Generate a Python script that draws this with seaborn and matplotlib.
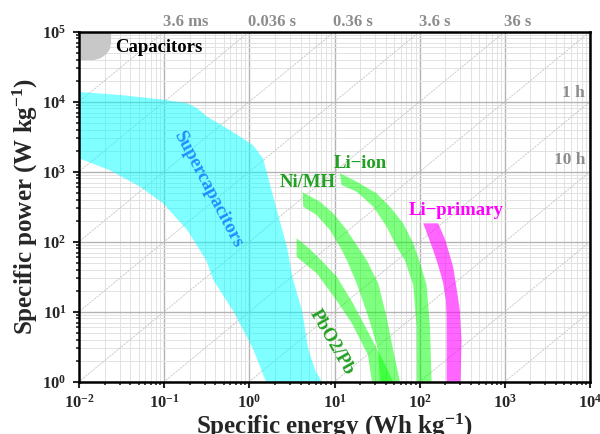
import matplotlib
matplotlib.use("Agg")
import matplotlib.pyplot as plt
import numpy as np
import pandas as pd
import seaborn as sns

# ---------------- data (Specific energy Wh/kg, Specific power W/kg) ----------------
cap_E = [0.01, 0.0238, 0.0238, 0.0230, 0.0210, 0.0181, 0.0150, 0.01]
cap_P = [1e5, 1e5, 6.9e4, 5.6e4, 4.8e4, 4.2e4, 3.94e4, 3.94e4]

sc_E = [0.01, 0.03, 0.097, 0.186, 0.243, 0.32, 0.64, 1.1, 1.45,
        2.1, 2.76, 3.2, 4.2, 4.9, 6.0, 7.1,
        1.57, 1.1, 0.66, 0.38, 0.31, 0.186, 0.097, 0.052, 0.023, 0.01]
sc_P = [1.38e4, 1.25e4, 1.07e4, 9.5e3, 8.1e3, 6.1e3, 3.7e3, 2.4e3, 1.55e3,
        285, 85, 31.6, 9.8, 3.0, 1.4, 1.0,
        1.0, 3.0, 9.8, 28, 55, 147, 355, 610, 1050, 1550]

pb_E = [3.59, 5.14, 7.11, 10.7, 16.4, 25.3, 38, 48.5,
        27.5, 24.7, 15.9, 10.1, 6.17, 3.59]
pb_P = [112, 78.7, 53, 31.3, 13.3, 4.91, 1.91, 1.0,
        1.0, 2.41, 6.9, 15.7, 35.4, 61]

nimh_E = [4.22, 6.74, 9.66, 13.9, 19.9, 23.8, 32.6, 40.8, 48.9, 58.6,
          34.1, 32.6, 24.9, 18.2, 13.9, 11.6, 8.83, 6.17, 4.29]
nimh_P = [508, 373, 255, 147, 76, 55, 25.5, 8.5, 2.84, 1.0,
          1.0, 2.84, 8.5, 25.5, 55, 84.8, 147, 240, 316]

liion_E = [11.6, 18.2, 31.2, 44.7, 64, 84, 100.5, 120.5, 132, 138,
           92.7, 92, 84, 67, 53.6, 40.9, 28.5, 18.2, 12.1]
liion_P = [948, 720, 491, 316, 183, 95, 51, 24, 6.1, 1.0,
           1.0, 6.1, 24, 54.8, 84.8, 164, 316, 518, 645]

lip_E = [110, 165, 200, 247, 273, 296, 310, 302,
         207, 207, 203, 189, 166, 144]
lip_P = [183, 183, 106, 44, 20.4, 10.6, 3.9, 1.0,
         1.0, 8.5, 14.7, 25.5, 45, 76]

# constant discharge-time lines (hours)
time_h = [1e-7, 1e-6, 1e-5, 1e-4, 1e-3, 1e-2, 1e-1, 1, 10, 100, 1e3, 1e4]
top_time_labels = ["3.6 ms", "0.036 s", "0.36 s", "3.6 s", "36 s"]
top_time_E = [0.1, 1, 10, 100, 1000]
right_time_labels = ["1 h", "10 h"]
right_time_P = [1.33e4, 1.47e3]

xticks = [1e-2, 1e-1, 1, 10, 100, 1e3, 1e4]
yticks = [1, 10, 100, 1e3, 1e4, 1e5]

# ---------------- style ----------------
sns.set_style("white")
plt.rcParams.update({
    "font.family": ["Liberation Serif", "DejaVu Serif"],
    "font.weight": "bold",
    "axes.labelweight": "bold",
    "mathtext.fontset": "custom",
    "mathtext.rm": "Liberation Serif:bold",
    "mathtext.it": "Liberation Serif:bold",
    "mathtext.bf": "Liberation Serif:bold",
    "mathtext.default": "regular",
})

fig = plt.figure(figsize=(6, 4.34), dpi=100)
ax = fig.add_axes([79 / 600, 1 - 381.7 / 434, 511 / 600, 350 / 434])
ax.set_xscale("log")
ax.set_yscale("log")

ax.grid(True, which="major", color="#b4b4b4", lw=1.0)
ax.grid(True, which="minor", color="#e2e2e2", lw=0.7)
ax.set_axisbelow(True)

# diagonal time lines through seaborn
rows = []
for t in time_h:
    for p in [1e-1, 1e6]:
        rows.append({"E": t * p, "P": p, "t": t})
df = pd.DataFrame(rows)
sns.lineplot(data=df, x="E", y="P", units="t", estimator=None, color="#c4c4c4",
             lw=0.6, ax=ax, legend=False, sort=False)
for ln in ax.lines:
    ln.set_dashes((2.5, 1.2))
    ln.set_zorder(1.5)

ax.fill(cap_E, cap_P, color="#c8c8c8", lw=0, zorder=2)
ax.fill(sc_E, sc_P, color="cyan", alpha=0.5, lw=0, zorder=2)
ax.fill(pb_E, pb_P, color="#00ff00", alpha=0.5, lw=0, zorder=2)
ax.fill(nimh_E, nimh_P, color="#00ff00", alpha=0.5, lw=0, zorder=2)
ax.fill(liion_E, liion_P, color="#00ff00", alpha=0.5, lw=0, zorder=2)
ax.fill(lip_E, lip_P, color="magenta", alpha=0.6, lw=0, zorder=2)

ax.set_xlim(1e-2, 1e4)
ax.set_ylim(1, 1e5)
ax.set_xticks(xticks)
ax.set_yticks(yticks)

green = "#22a022"
ax.text(0.0265, 6.0e4, "Capacitors", fontsize=13.5, color="black", ha="left", va="center")
ax.text(0.33, 560, "Supercapacitors", fontsize=13.5, color="#1e8fff", rotation=-62,
        ha="center", va="center", rotation_mode="anchor")
ax.text(9.33, 3.69, "PbO2/Pb", fontsize=13.5, color=green, rotation=-60,
        ha="center", va="center", rotation_mode="anchor")
ax.text(4.81, 690, "Ni/MH", fontsize=13.5, color=green, ha="center", va="center")
ax.text(19.9, 1331, "Li\u2212ion", fontsize=13.5, color=green, ha="center", va="center")
ax.text(265, 275, "Li\u2212primary", fontsize=13.5, color="magenta", ha="center", va="center")

trans_top = ax.get_xaxis_transform()
for lab, e in zip(top_time_labels, top_time_E):
    ax.text(e * 0.97, 1.004, lab, transform=trans_top, fontsize=12, color="#8c8c8c",
            ha="left", va="bottom")
trans_right = ax.get_yaxis_transform()
for lab, p in zip(right_time_labels, right_time_P):
    ax.text(0.99, p, lab, transform=trans_right, fontsize=12.5, color="#8c8c8c",
            ha="right", va="center")

for s in ax.spines.values():
    s.set_linewidth(1.8)
    s.set_color("black")
    s.set_visible(True)

ax.tick_params(which="major", direction="out", length=4, width=1.5, labelsize=12,
               pad=5, top=False, right=False, bottom=True, left=True)
ax.tick_params(which="minor", direction="out", length=2.5, width=1.2,
               top=False, right=False, bottom=True, left=True)

ax.set_xlabel("Specific energy (Wh kg$^{-1}$)", fontsize=18)
ax.set_ylabel("Specific power (W kg$^{-1}$)", fontsize=18)
ax.xaxis.set_label_coords(0.5, -0.085)
ax.yaxis.set_label_coords(-0.077, 0.5)

fig.savefig("out.png", dpi=100)
